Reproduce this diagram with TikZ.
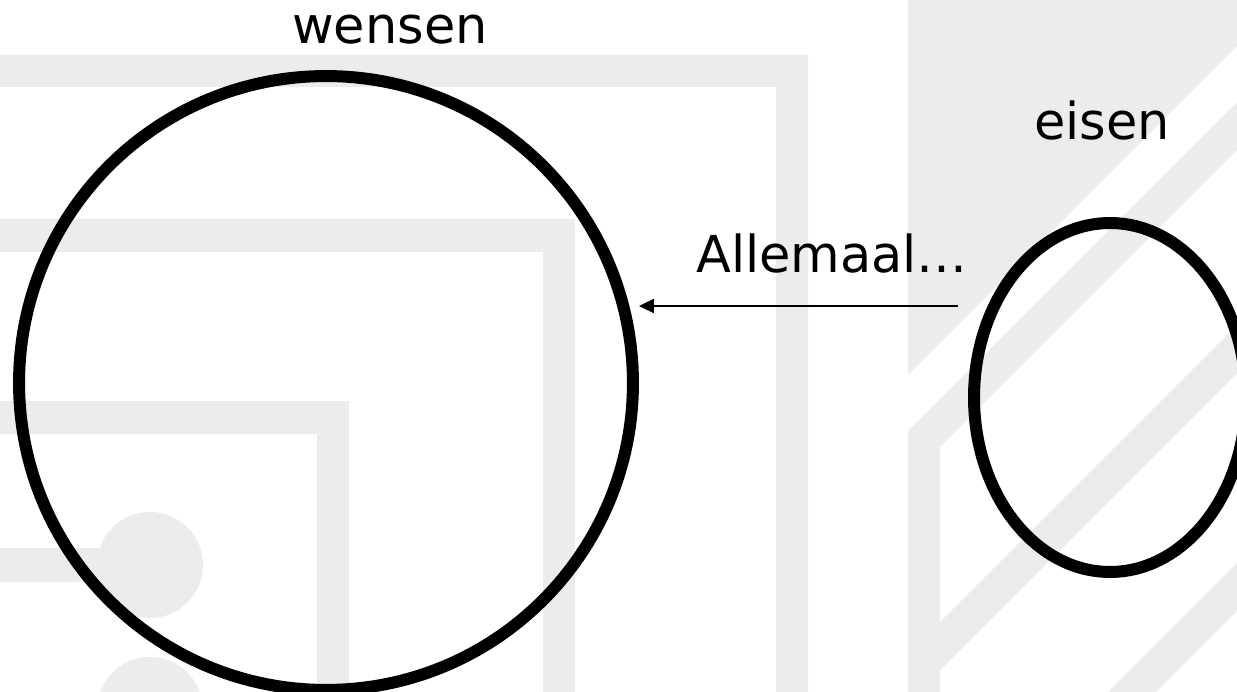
\documentclass[tikz,border=0pt]{standalone}
\usepackage{fontspec}
\setmainfont{DejaVu Sans}
\usetikzlibrary{shapes.geometric,arrows.meta}
\definecolor{achtergrond}{RGB}{235,237,236}

\begin{document}
\begin{tikzpicture}[x=0.02cm,y=-0.02cm,
  bg/.style={fill=achtergrond},
  ring/.style={draw,line width=0.24cm,inner sep=0pt},
  lbl/.style={font=\fontsize{29pt}{35pt}\selectfont,inner sep=0pt,anchor=base},
  pijl/.style={line width=0.04cm,-{Triangle[length=0.3cm,width=0.28cm]}}]
\fill[white] (0,0) rectangle (1237,692);
\useasboundingbox (0,0) rectangle (1237,692);

\fill[bg] (0,55) -- (808,55) -- (808,692) -- (776,692) -- (776,87) -- (0,87) -- cycle;
\fill[bg] (0,219) -- (575,219) -- (575,692) -- (543,692) -- (543,252) -- (0,252) -- cycle;
\fill[bg] (0,401) -- (349,401) -- (349,692) -- (317,692) -- (317,434) -- (0,434) -- cycle;
\fill[bg] (0,548) rectangle (150,582);
\fill[bg] (150,565) circle (53);
\fill[bg] (150,710) circle (53);

\fill[bg] (908,0) -- (1237,0) -- (1237,46) -- (908,375) -- cycle;
\fill[bg] (908,431) -- (1237,102) -- (1237,150) -- (940,447) -- (940,692) -- (908,692) -- cycle;
\fill[bg] (908,654) -- (1237,325) -- (1237,373) -- (918,692) -- (908,692) -- cycle;
\fill[bg] (1108,692) -- (1237,563) -- (1237,611) -- (1156,692) -- cycle;

\node[ring,circle,minimum size=12.28cm] (wensen) at (326,383) {};
\node[ring,ellipse,minimum width=5.44cm,minimum height=6.98cm] (eisen) at (1110,397.5) {};

\node[lbl] (wensentekst) at (390,44) {wensen};
\node[lbl] (eisentekst) at (1102,140) {eisen};
\node[lbl] (allemaal) at (832,273) {Allemaal…};

\coordinate (start) at (958,306);
\draw[pijl] (start) -- (wensen.east |- start);

\end{tikzpicture}
\end{document}
